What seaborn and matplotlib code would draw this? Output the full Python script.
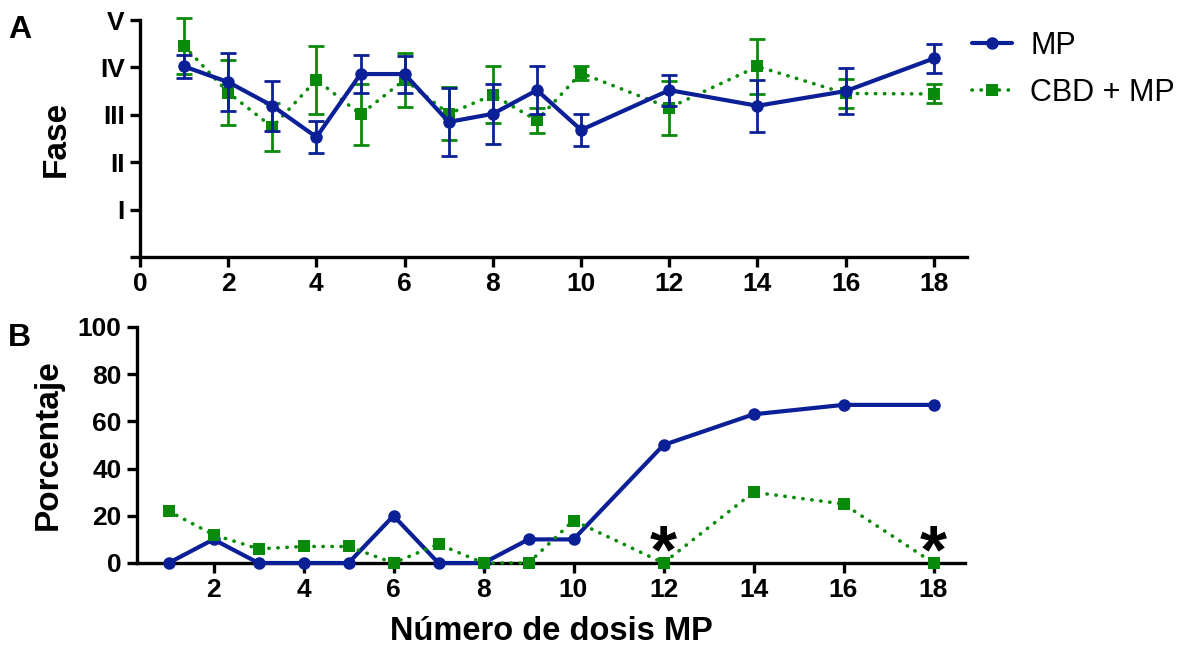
import numpy as np
import pandas as pd
import matplotlib
matplotlib.use("Agg")
import matplotlib.pyplot as plt
import seaborn as sns

# ---------------- data ----------------
doses = [1, 2, 3, 4, 5, 6, 7, 8, 9, 10, 12, 14, 16, 18]
phase_labels = ["I", "II", "III", "IV", "V"]

fase_mp = [4.02, 3.69, 3.19, 2.53, 3.86, 3.86, 2.85, 3.02, 3.52, 2.68, 3.52, 3.19, 3.50, 4.19]
fase_mp_err = [0.25, 0.62, 0.53, 0.34, 0.40, 0.39, 0.72, 0.63, 0.50, 0.33, 0.33, 0.55, 0.48, 0.31]
fase_cbd = [4.45, 3.47, 2.74, 3.74, 3.01, 3.74, 3.02, 3.42, 2.88, 3.88, 3.15, 4.02, 3.45, 3.44]
fase_cbd_err = [0.59, 0.69, 0.50, 0.72, 0.65, 0.57, 0.56, 0.60, 0.26, 0.14, 0.57, 0.58, 0.30, 0.20]

pct_mp = [0, 10, 0, 0, 0, 20, 0, 0, 10, 10, 50, 63, 67, 67]
pct_cbd = [22, 12, 6, 7, 7, 0, 8, 0, 0, 18, 0, 30, 25, 0]
sig_doses = [12, 18]

groups = ["MP", "CBD + MP"]
# ---------------------------------------

BLUE = "#0b1f96"
GREEN = "#0a8a0a"

sns.set_theme(style="white")
plt.rcParams["font.family"] = ["Liberation Sans", "DejaVu Sans"]
plt.rcParams["text.color"] = "black"
plt.rcParams["axes.labelcolor"] = "black"
plt.rcParams["xtick.color"] = "black"
plt.rcParams["ytick.color"] = "black"

fig = plt.figure(figsize=(11.92, 6.5), dpi=100)
axA = fig.add_axes([140/1192, 1-257/650, 827/1192, 237/650])
axB = fig.add_axes([137/1192, 1-563/650, 828/1192, 236/650])

dfA = pd.DataFrame({
    "dosis": doses * 2,
    "valor": fase_mp + fase_cbd,
    "grupo": [groups[0]] * len(doses) + [groups[1]] * len(doses),
})
dfB = pd.DataFrame({
    "dosis": doses * 2,
    "valor": pct_mp + pct_cbd,
    "grupo": [groups[0]] * len(doses) + [groups[1]] * len(doses),
})

lw = 2.6
DOTS = (0, (0.1, 2.4))

def style_axis(ax):
    for s in ["top", "right"]:
        ax.spines[s].set_visible(False)
    for s in ["left", "bottom"]:
        ax.spines[s].set_linewidth(2.4)
        ax.spines[s].set_color("black")
    ax.tick_params(axis="both", which="major", direction="out", length=7, width=2.4,
                   color="black", labelcolor="black", labelsize=19, pad=4,
                   left=True, bottom=True)
    for lab in ax.get_xticklabels() + ax.get_yticklabels():
        lab.set_fontweight("bold")
    ax.grid(False)

# ---- Panel A ----
axA.errorbar(doses, fase_cbd, yerr=fase_cbd_err, fmt="none", ecolor=GREEN,
             elinewidth=2, capsize=5.5, capthick=2, zorder=2, clip_on=False)
axA.errorbar(doses, fase_mp, yerr=fase_mp_err, fmt="none", ecolor=BLUE,
             elinewidth=2, capsize=5.5, capthick=2, zorder=4, clip_on=False)
sns.lineplot(data=dfA[dfA.grupo == groups[1]], x="dosis", y="valor", ax=axA,
             color=GREEN, marker="s", markersize=8.5, markeredgewidth=0,
             linewidth=lw, linestyle=DOTS,
             label=groups[1], zorder=3, clip_on=False)
sns.lineplot(data=dfA[dfA.grupo == groups[0]], x="dosis", y="valor", ax=axA,
             color=BLUE, marker="o", markersize=9, markeredgewidth=0,
             linewidth=3, label=groups[0], zorder=5, clip_on=False)
for ln in axA.get_lines():
    ln.set_dash_capstyle("round")
axA.set_xlim(0, 18.75)
axA.set_ylim(0, 5)
axA.set_xticks(range(0, 19, 2))
axA.set_yticks([0, 1, 2, 3, 4, 5])
axA.set_yticklabels([""] + phase_labels)
axA.set_xlabel("")
axA.set_ylabel("Fase", fontsize=24, fontweight="bold", labelpad=20)
style_axis(axA)
handles, labels = axA.get_legend_handles_labels()
axA.get_legend().remove()
order = [labels.index(g) for g in groups]
fig.legend([handles[i] for i in order], [labels[i] for i in order],
           loc="upper left", bbox_to_anchor=(972/1192, 1-31/650), frameon=False,
           fontsize=22, handlelength=1.3, labelspacing=0.55, handletextpad=0.6,
           borderaxespad=0, borderpad=0)

# ---- Panel B ----
sns.lineplot(data=dfB[dfB.grupo == groups[0]], x="dosis", y="valor", ax=axB,
             color=BLUE, marker="o", markersize=9, markeredgewidth=0,
             linewidth=3, legend=False, zorder=3, clip_on=False)
sns.lineplot(data=dfB[dfB.grupo == groups[1]], x="dosis", y="valor", ax=axB,
             color=GREEN, marker="s", markersize=8.5, markeredgewidth=0,
             linewidth=lw, linestyle=DOTS,
             legend=False, zorder=4, clip_on=False)
for ln in axB.get_lines():
    ln.set_dash_capstyle("round")
for d in sig_doses:
    axB.text(d, -10, "*", ha="center", va="bottom", fontsize=50,
             fontweight="bold", color="black", zorder=5)
axB.set_xlim(0.3, 18.7)
axB.set_ylim(0, 100)
axB.set_xticks(range(2, 19, 2))
axB.set_yticks(range(0, 101, 20))
axB.set_xlabel("Número de dosis MP", fontsize=23.5, fontweight="bold", labelpad=10)
axB.set_ylabel("Porcentaje", fontsize=24, fontweight="bold", labelpad=10)
style_axis(axB)

fig.text(8/1192, 1-38/650, "A", fontsize=23, fontweight="bold")
fig.text(8/1192, 1-346/650, "B", fontsize=23, fontweight="bold")

fig.savefig("out.png", dpi=100)
